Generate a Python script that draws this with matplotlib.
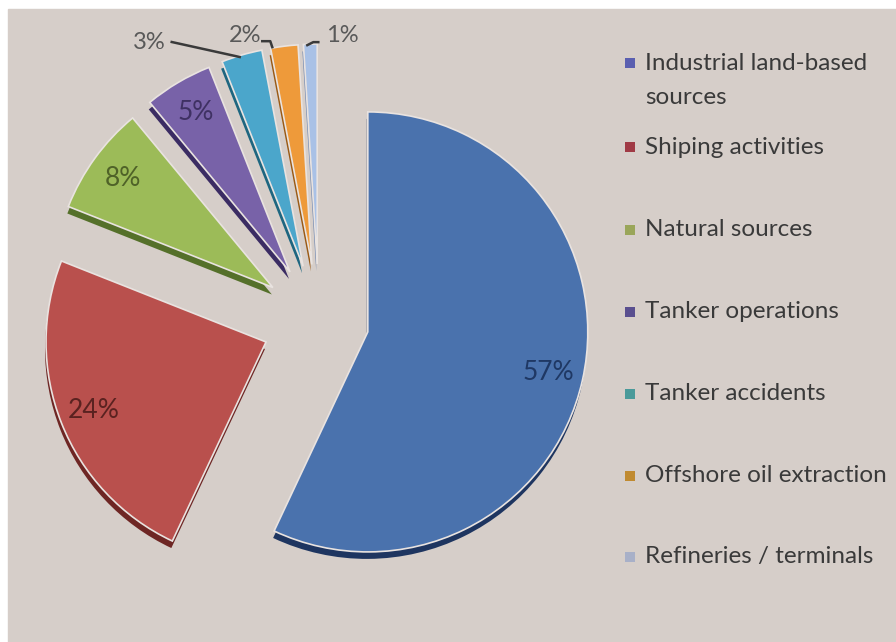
import matplotlib.pyplot as plt
import numpy as np
from matplotlib.patches import Rectangle

# data
categories = ['Industrial land-based\nsources', 'Shiping activities', 'Natural sources',
              'Tanker operations', 'Tanker accidents', 'Offshore oil extraction',
              'Refineries / terminals']
shares = [57, 24, 8, 5, 3, 2, 1]

colors = ['#4A72AD', '#B9504D', '#9CBB58', '#7862A8', '#4BA6CB', '#EE9A3A', '#A9C1E6']
dark_colors = ['#1E3560', '#6E2624', '#55702A', '#3B2C63', '#1E6680', '#9A5A15', '#6F87B0']
pct_colors = ['#1F3864', '#5A2220', '#4F6228', '#3F3163', '#595959', '#595959', '#595959']
legend_colors = ['#5A5FB0', '#A03A45', '#9AA65A', '#5A4F8F', '#4A9A9A', '#C08A30', '#A8B0C8']

plt.rcParams['font.family'] = ['Lato', 'DejaVu Sans']

fig = plt.figure(figsize=(8.96, 6.42), dpi=100, facecolor='white')
fig.add_artist(Rectangle((8 / 896, 0), 1 - 8 / 896, 1 - 9 / 642,
                         transform=fig.transFigure, color='#D6CEC9', zorder=0))

ax = fig.add_axes([0, 0, 1, 1])
ax.set_facecolor('none')

R = 220
cx, cy = 319, 321
# explode is in data units here (pixels)
explode = [50, 57, 57, 57, 57, 57, 57]

# depth / shadow layer
ax.pie(shares, colors=dark_colors, startangle=90, counterclock=False,
       explode=explode, radius=R, center=(cx - 1, cy - 7),
       wedgeprops=dict(linewidth=0))

wedges, _, autotexts = ax.pie(
    shares, colors=colors, startangle=90, counterclock=False,
    explode=explode, radius=R, center=(cx, cy),
    autopct='%.0f%%', pctdistance=0.84,
    wedgeprops=dict(linewidth=1.2, edgecolor='#E9E3E0'),
    textprops=dict(fontsize=19))

for t, c in zip(autotexts, pct_colors):
    t.set_color(c)


def outer_point(w):
    th = np.deg2rad((w.theta1 + w.theta2) / 2)
    return np.array(w.center) + w.r * np.array([np.cos(th), np.sin(th)])


# small slices: labels outside with leader lines
outside = {
    4: ((-92, 12), [(-70, 13), (-2, -2)]),
    5: ((-39, 11), [(-22, 5), (-14, 5), (-12, -1)]),
    6: ((32, 9), [(-3, -1), (3, 2), (8, 2)]),
}
for i, (toff, loffs) in outside.items():
    p = outer_point(wedges[i])
    autotexts[i].set_position(p + np.array(toff))
    autotexts[i].set_color('#595959')
    autotexts[i].set_fontsize(17)
    pts = np.array([p + np.array(o) for o in loffs])
    ax.plot(pts[:, 0], pts[:, 1], color='#3A3A3A', lw=1.8)

ax.set_xlim(0, 896)
ax.set_ylim(0, 642)
ax.set_aspect('equal')
ax.axis('off')

# legend drawn by hand (marker aligned with first text line)
legend_y = [63, 147, 230, 312, 394, 476, 557]
for lab, col, yi in zip(categories, legend_colors, legend_y):
    y = 642 - yi
    ax.add_patch(Rectangle((625, y - 5), 10, 10, color=col, lw=0))
    for k, line in enumerate(lab.split('\n')):
        ax.text(645, y - k * 35, line, fontsize=17.5, color='#3A3A3A',
                va='center', ha='left')

fig.savefig('out.png', dpi=100, facecolor='white')
